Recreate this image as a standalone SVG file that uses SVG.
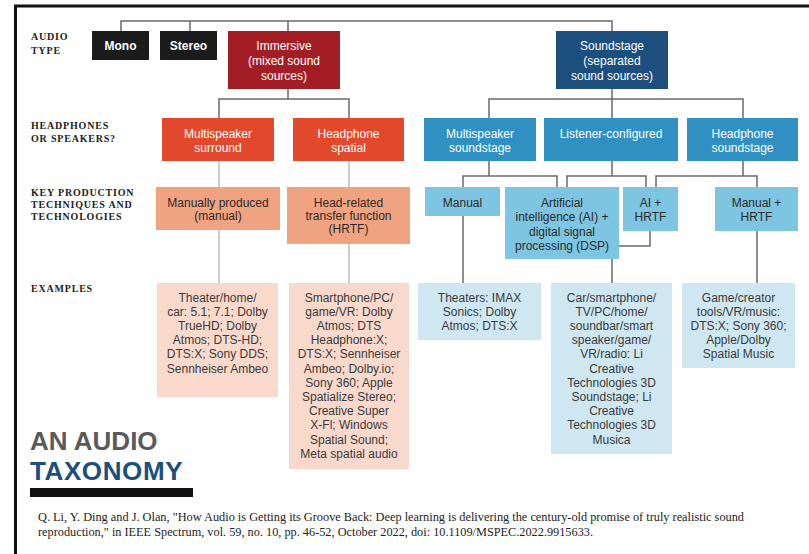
<svg xmlns="http://www.w3.org/2000/svg" width="809" height="554" viewBox="0 0 809 554">
<style>
  .lbl{font-family:"Liberation Serif","Times New Roman",serif;font-weight:bold;font-size:10px;letter-spacing:0.8px;fill:#222}
  .nt{font-family:"Liberation Sans",Arial,sans-serif;font-size:12px;text-anchor:middle}
  .w{fill:#fff}
  .wb{fill:#fff;font-weight:bold}
  .d{fill:#2a2a2a}
  .ex{fill:#3a3a3a}
  .ln{stroke:#6a6a6a;stroke-width:1.5;fill:none}
  .lt{stroke:#bdbdbd;stroke-width:1.5;fill:none}
  .blk{fill:#1b1b1b}
  .imm{fill:#a31e24}
  .red{fill:#e2492c}
  .sal{fill:#f0a381}
  .pnk{fill:#f9d9cc}
  .nav{fill:#1c4f7e}
  .blu{fill:#2f90c1}
  .sky{fill:#7dc5e1}
  .pbl{fill:#cfe7f0}
  .ttl{font-family:"Liberation Sans",Arial,sans-serif;font-weight:bold;font-size:26px}
</style>
<rect width="809" height="554" fill="#ffffff"/>
<!-- frame -->
<path d="M15.5 554 V6 H809" stroke="#111" stroke-width="3" fill="none"/>

<!-- row labels -->
<g id="row-labels">
  <text class="lbl" x="31" y="40">AUDIO</text>
  <text class="lbl" x="31" y="54">TYPE</text>
  <text class="lbl" x="31" y="128.5">HEADPHONES</text>
  <text class="lbl" x="31" y="142">OR SPEAKERS?</text>
  <text class="lbl" x="31" y="196">KEY PRODUCTION</text>
  <text class="lbl" x="31" y="208">TECHNIQUES AND</text>
  <text class="lbl" x="31" y="220">TECHNOLOGIES</text>
  <text class="lbl" x="31" y="292">EXAMPLES</text>
</g>

<!-- connectors -->
<g id="connectors">
  <path class="ln" d="M121 31 V21 H612 V31 M190 21 V31 M288 21 V31"/>
  <path class="ln" d="M288 89 V99 M219 118 V99 H349 V118"/>
  <path class="lt" d="M219 161 V187 M349 161 V187 M219 230 V283 M349 244 V283"/>
  <path class="ln" d="M612 89 V99 M489 118 V99 H743 V118 M612 99 V118"/>
  <path class="ln" d="M489 161 V176 M463 187 V176 H557 V187"/>
  <path class="ln" d="M612 161 V176 M567 187 V176 H646 V187"/>
  <path class="ln" d="M743 161 V176 M656 187 V176 H757 V187"/>
  <path class="ln" d="M619 246 H650 V231"/>
  <path class="ln" d="M463 216 V283 M612 259 V283 M757 231 V283"/>
</g>

<!-- audio type -->
<g id="mono"><rect class="blk" x="92" y="31" width="57" height="29"/><text class="nt wb" x="120.5" y="50">Mono</text></g>
<g id="stereo"><rect class="blk" x="160" y="31" width="57" height="29"/><text class="nt wb" x="188.5" y="50">Stereo</text></g>
<g id="immersive"><rect class="imm" x="228" y="31" width="112" height="58"/>
  <text class="nt w" x="284" y="50">Immersive</text><text class="nt w" x="284" y="65">(mixed sound</text><text class="nt w" x="284" y="80">sources)</text></g>
<g id="soundstage"><rect class="nav" x="556" y="31" width="112" height="58"/>
  <text class="nt w" x="612" y="50">Soundstage</text><text class="nt w" x="612" y="65">(separated</text><text class="nt w" x="612" y="80">sound sources)</text></g>

<!-- headphones or speakers -->
<g id="multispeaker-surround"><rect class="red" x="162" y="118" width="112" height="43"/>
  <text class="nt w" x="218" y="137.5">Multispeaker</text><text class="nt w" x="218" y="151.5">surround</text></g>
<g id="headphone-spatial"><rect class="red" x="293" y="118" width="111" height="43"/>
  <text class="nt w" x="348.5" y="137.5">Headphone</text><text class="nt w" x="348.5" y="151.5">spatial</text></g>
<g id="multispeaker-soundstage"><rect class="blu" x="424" y="118" width="112" height="43"/>
  <text class="nt w" x="480" y="137.5">Multispeaker</text><text class="nt w" x="480" y="151.5">soundstage</text></g>
<g id="listener-configured"><rect class="blu" x="544" y="118" width="134" height="43"/>
  <text class="nt w" x="611" y="137.5">Listener-configured</text></g>
<g id="headphone-soundstage"><rect class="blu" x="687" y="118" width="111" height="43"/>
  <text class="nt w" x="742.5" y="137.5">Headphone</text><text class="nt w" x="742.5" y="151.5">soundstage</text></g>

<!-- techniques -->
<g id="manually-produced"><rect class="sal" x="156" y="187" width="124" height="43"/>
  <text class="nt d" x="218" y="206.5">Manually produced</text><text class="nt d" x="218" y="219.5">(manual)</text></g>
<g id="hrtf"><rect class="sal" x="287" y="187" width="123" height="57"/>
  <text class="nt d" x="348.5" y="207">Head-related</text><text class="nt d" x="348.5" y="220">transfer function</text><text class="nt d" x="348.5" y="233">(HRTF)</text></g>
<g id="manual"><rect class="sky" x="425" y="187" width="75" height="29"/>
  <text class="nt d" x="462.5" y="206.5">Manual</text></g>
<g id="ai-dsp"><rect class="sky" x="505" y="187" width="114" height="72"/>
  <text class="nt d" x="562" y="206.5">Artificial</text><text class="nt d" x="562" y="221">intelligence (AI) +</text><text class="nt d" x="562" y="235.5">digital signal</text><text class="nt d" x="562" y="250">processing (DSP)</text></g>
<g id="ai-hrtf"><rect class="sky" x="623" y="187" width="55" height="44"/>
  <text class="nt d" x="650.5" y="206.5">AI +</text><text class="nt d" x="650.5" y="221">HRTF</text></g>
<g id="manual-hrtf"><rect class="sky" x="715" y="187" width="83" height="44"/>
  <text class="nt d" x="756.5" y="206.5">Manual +</text><text class="nt d" x="756.5" y="221">HRTF</text></g>

<!-- examples -->
<g id="ex-theater"><rect class="pnk" x="157" y="283" width="121" height="114"/>
  <text class="nt ex" x="217.5" y="301.5">Theater/home/</text>
  <text class="nt ex" x="217.5" y="315.7">car: 5.1; 7.1; Dolby</text>
  <text class="nt ex" x="217.5" y="329.9">TrueHD; Dolby</text>
  <text class="nt ex" x="217.5" y="344.1">Atmos; DTS-HD;</text>
  <text class="nt ex" x="217.5" y="358.3">DTS:X; Sony DDS;</text>
  <text class="nt ex" x="217.5" y="372.5">Sennheiser Ambeo</text></g>
<g id="ex-smartphone"><rect class="pnk" x="289" y="283" width="120" height="186"/>
  <text class="nt ex" x="349" y="301.5">Smartphone/PC/</text>
  <text class="nt ex" x="349" y="315.7">game/VR: Dolby</text>
  <text class="nt ex" x="349" y="329.9">Atmos; DTS</text>
  <text class="nt ex" x="349" y="344.1">Headphone:X;</text>
  <text class="nt ex" x="349" y="358.3">DTS:X; Sennheiser</text>
  <text class="nt ex" x="349" y="372.5">Ambeo; Dolby.io;</text>
  <text class="nt ex" x="349" y="386.7">Sony 360; Apple</text>
  <text class="nt ex" x="349" y="400.9">Spatialize Stereo;</text>
  <text class="nt ex" x="349" y="415.1">Creative Super</text>
  <text class="nt ex" x="349" y="429.3">X-Fl; Windows</text>
  <text class="nt ex" x="349" y="443.5">Spatial Sound;</text>
  <text class="nt ex" x="349" y="457.7">Meta spatial audio</text></g>
<g id="ex-theaters-imax"><rect class="pbl" x="418" y="283" width="123" height="57"/>
  <text class="nt ex" x="479.5" y="301.5">Theaters: IMAX</text>
  <text class="nt ex" x="479.5" y="315.7">Sonics; Dolby</text>
  <text class="nt ex" x="479.5" y="329.9">Atmos; DTS:X</text></g>
<g id="ex-car"><rect class="pbl" x="551" y="283" width="121" height="171"/>
  <text class="nt ex" x="611.5" y="301.5">Car/smartphone/</text>
  <text class="nt ex" x="611.5" y="315.7">TV/PC/home/</text>
  <text class="nt ex" x="611.5" y="329.9">soundbar/smart</text>
  <text class="nt ex" x="611.5" y="344.1">speaker/game/</text>
  <text class="nt ex" x="611.5" y="358.3">VR/radio: Li</text>
  <text class="nt ex" x="611.5" y="372.5">Creative</text>
  <text class="nt ex" x="611.5" y="386.7">Technologies 3D</text>
  <text class="nt ex" x="611.5" y="400.9">Soundstage; Li</text>
  <text class="nt ex" x="611.5" y="415.1">Creative</text>
  <text class="nt ex" x="611.5" y="429.3">Technologies 3D</text>
  <text class="nt ex" x="611.5" y="443.5">Musica</text></g>
<g id="ex-game"><rect class="pbl" x="682" y="283" width="113" height="85"/>
  <text class="nt ex" x="738.5" y="301.5">Game/creator</text>
  <text class="nt ex" x="738.5" y="315.7">tools/VR/music:</text>
  <text class="nt ex" x="738.5" y="329.9">DTS:X; Sony 360;</text>
  <text class="nt ex" x="738.5" y="344.1">Apple/Dolby</text>
  <text class="nt ex" x="738.5" y="358.3">Spatial Music</text></g>

<!-- title -->
<g id="title">
  <text class="ttl" x="30" y="450" letter-spacing="0" fill="#5a5a5a">AN AUDIO</text>
  <text class="ttl" x="30" y="480" letter-spacing="0.6" fill="#1c4f7e">TAXONOMY</text>
  <rect x="30" y="488" width="163" height="9" fill="#111"/>
</g>

<!-- citation -->
<g id="citation" font-family="Liberation Serif,Times New Roman,serif" font-size="11.5" fill="#222">
  <text x="38" y="521" textLength="706" lengthAdjust="spacingAndGlyphs">Q. Li, Y. Ding and J. Olan, "How Audio is Getting its Groove Back: Deep learning is delivering the century-old promise of truly realistic sound</text>
  <text x="38" y="536" textLength="555" lengthAdjust="spacingAndGlyphs">reproduction," in IEEE Spectrum, vol. 59, no. 10, pp. 46-52, October 2022, doi: 10.1109/MSPEC.2022.9915633.</text>
</g>
</svg>
